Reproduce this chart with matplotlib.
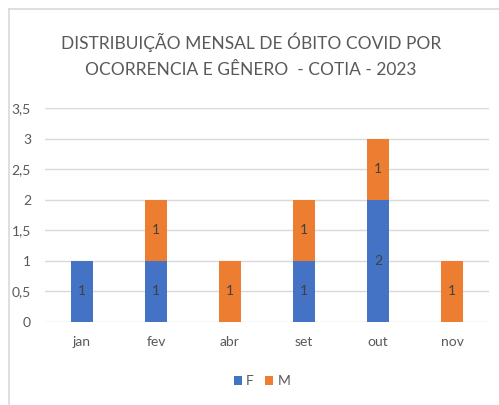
import matplotlib
matplotlib.use("Agg")
import matplotlib.pyplot as plt
from matplotlib.lines import Line2D
import numpy as np

months = ["jan", "fev", "abr", "set", "out", "nov"]
f_vals = [1, 1, 0, 1, 2, 0]
m_vals = [0, 1, 1, 1, 1, 1]
yticks = [0, 0.5, 1, 1.5, 2, 2.5, 3, 3.5]
ytick_labels = ["0", "0,5", "1", "1,5", "2", "2,5", "3", "3,5"]
title = "DISTRIBUIÇÃO MENSAL DE ÓBITO COVID POR\nOCORRENCIA E GÊNERO  - COTIA - 2023"

FONT = ["Lato", "DejaVu Sans"]
plt.rcParams["font.family"] = FONT

blue = "#4472C4"
orange = "#ED7D31"
txt = "#595959"

fig = plt.figure(figsize=(4.99, 4.05), dpi=100)
fig.patch.set_facecolor("white")
bx = 8.5 / 499
by = 1 - 8.5 / 405
fig.lines.append(Line2D([bx, bx], [0, by], transform=fig.transFigure,
                        color="#d9d9d9", linewidth=1.2))
fig.lines.append(Line2D([bx, 1], [by, by], transform=fig.transFigure,
                        color="#d9d9d9", linewidth=1.2))

ax = fig.add_axes([45/499, 1 - 322/405, 444/499, 214/405])
x = np.arange(len(months))
w = 0.31
ax.bar(x, f_vals, w, color=blue, label="F", zorder=3)
ax.bar(x, m_vals, w, bottom=f_vals, color=orange, label="M", zorder=3)

for i in range(len(months)):
    if f_vals[i]:
        ax.text(x[i], f_vals[i] / 2, str(f_vals[i]), ha="center", va="center",
                fontsize=10, color="#404040", zorder=4)
    if m_vals[i]:
        ax.text(x[i], f_vals[i] + m_vals[i] / 2, str(m_vals[i]), ha="center",
                va="center", fontsize=10, color="#404040", zorder=4)

ax.set_xlim(-0.5, len(months) - 0.5)
ax.set_ylim(0, 3.5)
ax.set_yticks(yticks)
ax.set_yticklabels(ytick_labels)
ax.set_xticks(x)
ax.set_xticklabels(months)
ax.tick_params(axis="both", length=0, colors=txt, labelsize=10)
ax.tick_params(axis="y", pad=10)
ax.tick_params(axis="x", pad=10)
ax.grid(axis="y", color="#d9d9d9", linewidth=1, zorder=0)
for s in ax.spines.values():
    s.set_visible(False)

fig.text(251/499, 1 - 55/405, title, ha="center", va="center",
         fontsize=12.5, color=txt, linespacing=1.75)

leg = fig.legend(loc="center", bbox_to_anchor=(262/499, 1 - 381/405), ncol=2,
                 frameon=False, fontsize=10, handlelength=0.6, handleheight=0.6,
                 handletextpad=0.3, columnspacing=0.8)
for t in leg.get_texts():
    t.set_color(txt)

fig.savefig("out.png", dpi=100)
